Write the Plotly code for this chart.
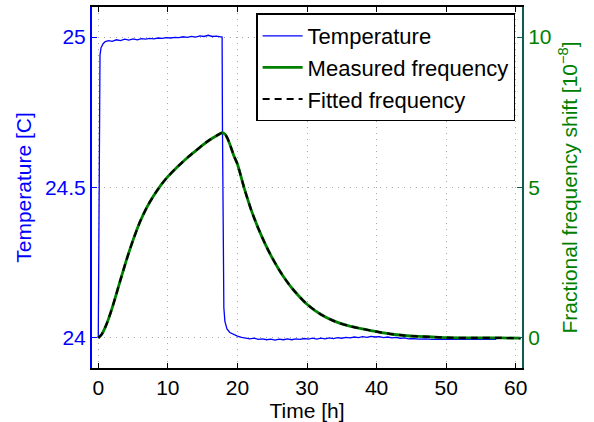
import plotly.graph_objects as go

# ---- data ----
temp_time = [0, 0.05, 0.1, 0.15, 0.25, 0.4, 0.7, 1.0, 1.5, 2.0, 2.6, 3.2, 3.8, 4.4, 5.0, 5.6, 6.2, 6.8,
             7.4, 8.0, 8.6, 9.2, 9.8, 10.4, 11.0, 11.6, 12.2, 12.8, 13.4, 14.0, 14.6, 15.2, 15.8, 16.4,
             17.0, 17.6, 17.8, 17.85, 17.9, 17.95, 18.05, 18.2, 18.5, 18.9, 19.4, 20.0, 20.6, 21.2, 21.8,
             22.4, 23.0, 23.6, 24.2, 24.8, 25.4, 26.0, 26.6, 27.2, 27.8, 28.4, 29.0, 29.6, 30.2, 30.8,
             31.4, 32.0, 32.6, 33.2, 33.8, 34.4, 35.0, 35.6, 36.2, 36.8, 37.4, 38.0, 38.6, 39.2, 39.8,
             40.4, 41.0, 41.6, 42.2, 42.8, 43.4, 44.0, 44.6, 45.2, 46.0, 47.0, 48.0, 49.0, 50.0, 51.0,
             52.0, 53.0, 54.0, 55.0, 56.0, 57.2]
temp_vals = [24.0, 24.2, 24.6, 24.85, 24.94, 24.965, 24.978, 24.985, 24.988, 24.986, 24.991, 24.988,
             24.993, 24.99, 24.994, 24.991, 24.995, 24.993, 24.996, 24.994, 24.997, 24.996, 24.998,
             24.997, 24.999, 24.998, 25.001, 24.999, 25.002, 25.0, 25.004, 25.002, 25.006, 25.002,
             25.003, 25.001, 25.0, 24.7, 24.4, 24.2, 24.1, 24.055, 24.03, 24.018, 24.012, 24.006,
             24.002, 23.999, 23.997, 23.999, 23.995, 23.997, 23.994, 23.996, 23.993, 23.996, 23.994,
             23.997, 23.994, 23.997, 23.995, 23.998, 23.996, 23.999, 23.996, 23.999, 23.997, 24.0,
             23.998, 24.001, 23.999, 24.002, 24.0, 24.003, 24.001, 24.004, 24.002, 24.005, 24.003,
             24.004, 24.001, 24.003, 24.0, 24.002, 23.999, 24.0, 23.997, 23.998, 23.996, 23.997,
             23.995, 23.996, 23.995, 23.996, 23.995, 23.996, 23.995, 23.996, 23.995, 23.995]

freq_time = [0, 0.5, 1.0, 1.5, 2.0, 2.5, 3.0, 4.0, 5.0, 6.0, 7.0, 8.0, 9.0, 10.0, 11.0, 12.0, 13.0,
             14.0, 15.0, 16.0, 17.0, 17.8, 18.2, 18.6, 19.0, 19.5, 20.0, 21.0, 22.0, 23.0, 24.0, 25.0,
             26.0, 27.0, 28.0, 30.0, 32.0, 34.0, 36.0, 38.0, 40.0, 42.0, 44.0, 46.0, 48.0, 50.0, 54.0,
             58.0, 60.7]
freq_measured = [0, 0.12, 0.35, 0.65, 1.0, 1.38, 1.78, 2.55, 3.25, 3.86, 4.35, 4.74, 5.08, 5.36, 5.6,
                 5.82, 6.03, 6.22, 6.41, 6.58, 6.72, 6.82, 6.78, 6.62, 6.38, 6.05, 5.78, 4.96, 4.24,
                 3.64, 3.12, 2.66, 2.26, 1.91, 1.61, 1.12, 0.78, 0.55, 0.4, 0.3, 0.21, 0.13, 0.08, 0.05,
                 0.03, 0.01, 0.0, 0.0, -0.01]
freq_fitted = [0, 0.12, 0.35, 0.65, 1.0, 1.38, 1.78, 2.55, 3.25, 3.86, 4.35, 4.74, 5.08, 5.36, 5.6,
               5.82, 6.03, 6.22, 6.41, 6.58, 6.72, 6.82, 6.78, 6.62, 6.38, 6.05, 5.78, 4.96, 4.24,
               3.64, 3.12, 2.66, 2.26, 1.91, 1.61, 1.12, 0.78, 0.55, 0.4, 0.3, 0.21, 0.13, 0.08, 0.05,
               0.03, 0.01, 0.0, 0.0, -0.01]

x_ticks = [0, 10, 20, 30, 40, 50, 60]
temp_ticks = [24, 24.5, 25]
freq_ticks = [0, 5, 10]

BLUE = "#0000ff"
GREEN = "#008000"
RIGHT_AX = "#0b5e50"
GRID = "#a8a8a8"
FONT = "Liberation Sans, Arial, sans-serif"

fig = go.Figure()
fig.add_trace(go.Scatter(x=freq_time, y=freq_measured, mode="lines", name="Measured frequency",
                         line=dict(color=GREEN, width=2.8, shape="spline", smoothing=0.6),
                         yaxis="y2", legendrank=2))
fig.add_trace(go.Scatter(x=freq_time, y=freq_fitted, mode="lines", name="Fitted frequency",
                         line=dict(color="black", width=2.2, dash="7px,5px", shape="spline", smoothing=0.6),
                         yaxis="y2", legendrank=3))
fig.add_trace(go.Scatter(x=temp_time, y=temp_vals, mode="lines", name="Temperature",
                         line=dict(color=BLUE, width=1.3), legendrank=1))

fig.update_layout(
    width=594, height=422,
    margin=dict(l=92, r=72, t=7, b=54, autoexpand=False),
    paper_bgcolor="white", plot_bgcolor="white",
    font=dict(family=FONT, size=21, color="black"),
    showlegend=True,
    legend=dict(x=0.984, y=0.982, xanchor="right", yanchor="top",
                bgcolor="white", bordercolor="black", borderwidth=1.5,
                font=dict(size=22), tracegroupgap=0, itemwidth=40),
    xaxis=dict(range=[-0.9, 60.9], tickvals=x_ticks, ticks="inside", ticklen=5,
               tickcolor="black", showline=True, linecolor="black", linewidth=2,
               mirror="ticks", showgrid=True, gridcolor=GRID, griddash="1px,5px",
               gridwidth=1, zeroline=False, automargin=False,
               title=dict(text="Time [h]", standoff=2, font=dict(size=21)), tickfont=dict(size=21)),
    yaxis=dict(range=[23.9, 25.1], tickvals=temp_ticks, ticktext=["24", "24.5", "25"],
               ticks="inside", ticklen=5, tickcolor=BLUE, showline=True, linecolor=BLUE,
               linewidth=2, showgrid=True, gridcolor=GRID, griddash="1px,5px", zeroline=False,
               automargin=False, tickfont=dict(color=BLUE, size=21),
               title=dict(text="Temperature [C]", font=dict(color=BLUE, size=21), standoff=8)),
    yaxis2=dict(range=[-1, 11], tickvals=freq_ticks, overlaying="y", side="right",
                ticks="inside", ticklen=5, tickcolor=RIGHT_AX, showline=True, linecolor=RIGHT_AX,
                linewidth=2, showgrid=False, zeroline=False, automargin=False,
                tickfont=dict(color=GREEN, size=21),
                title=dict(text="Fractional frequency shift [10<sup>\u22128</sup>]",
                           font=dict(color=GREEN, size=21), standoff=12)),
)

fig.write_html("out.html", config={"displayModeBar": False},
               post_script="document.body.style.margin='0';document.body.style.padding='0';")
